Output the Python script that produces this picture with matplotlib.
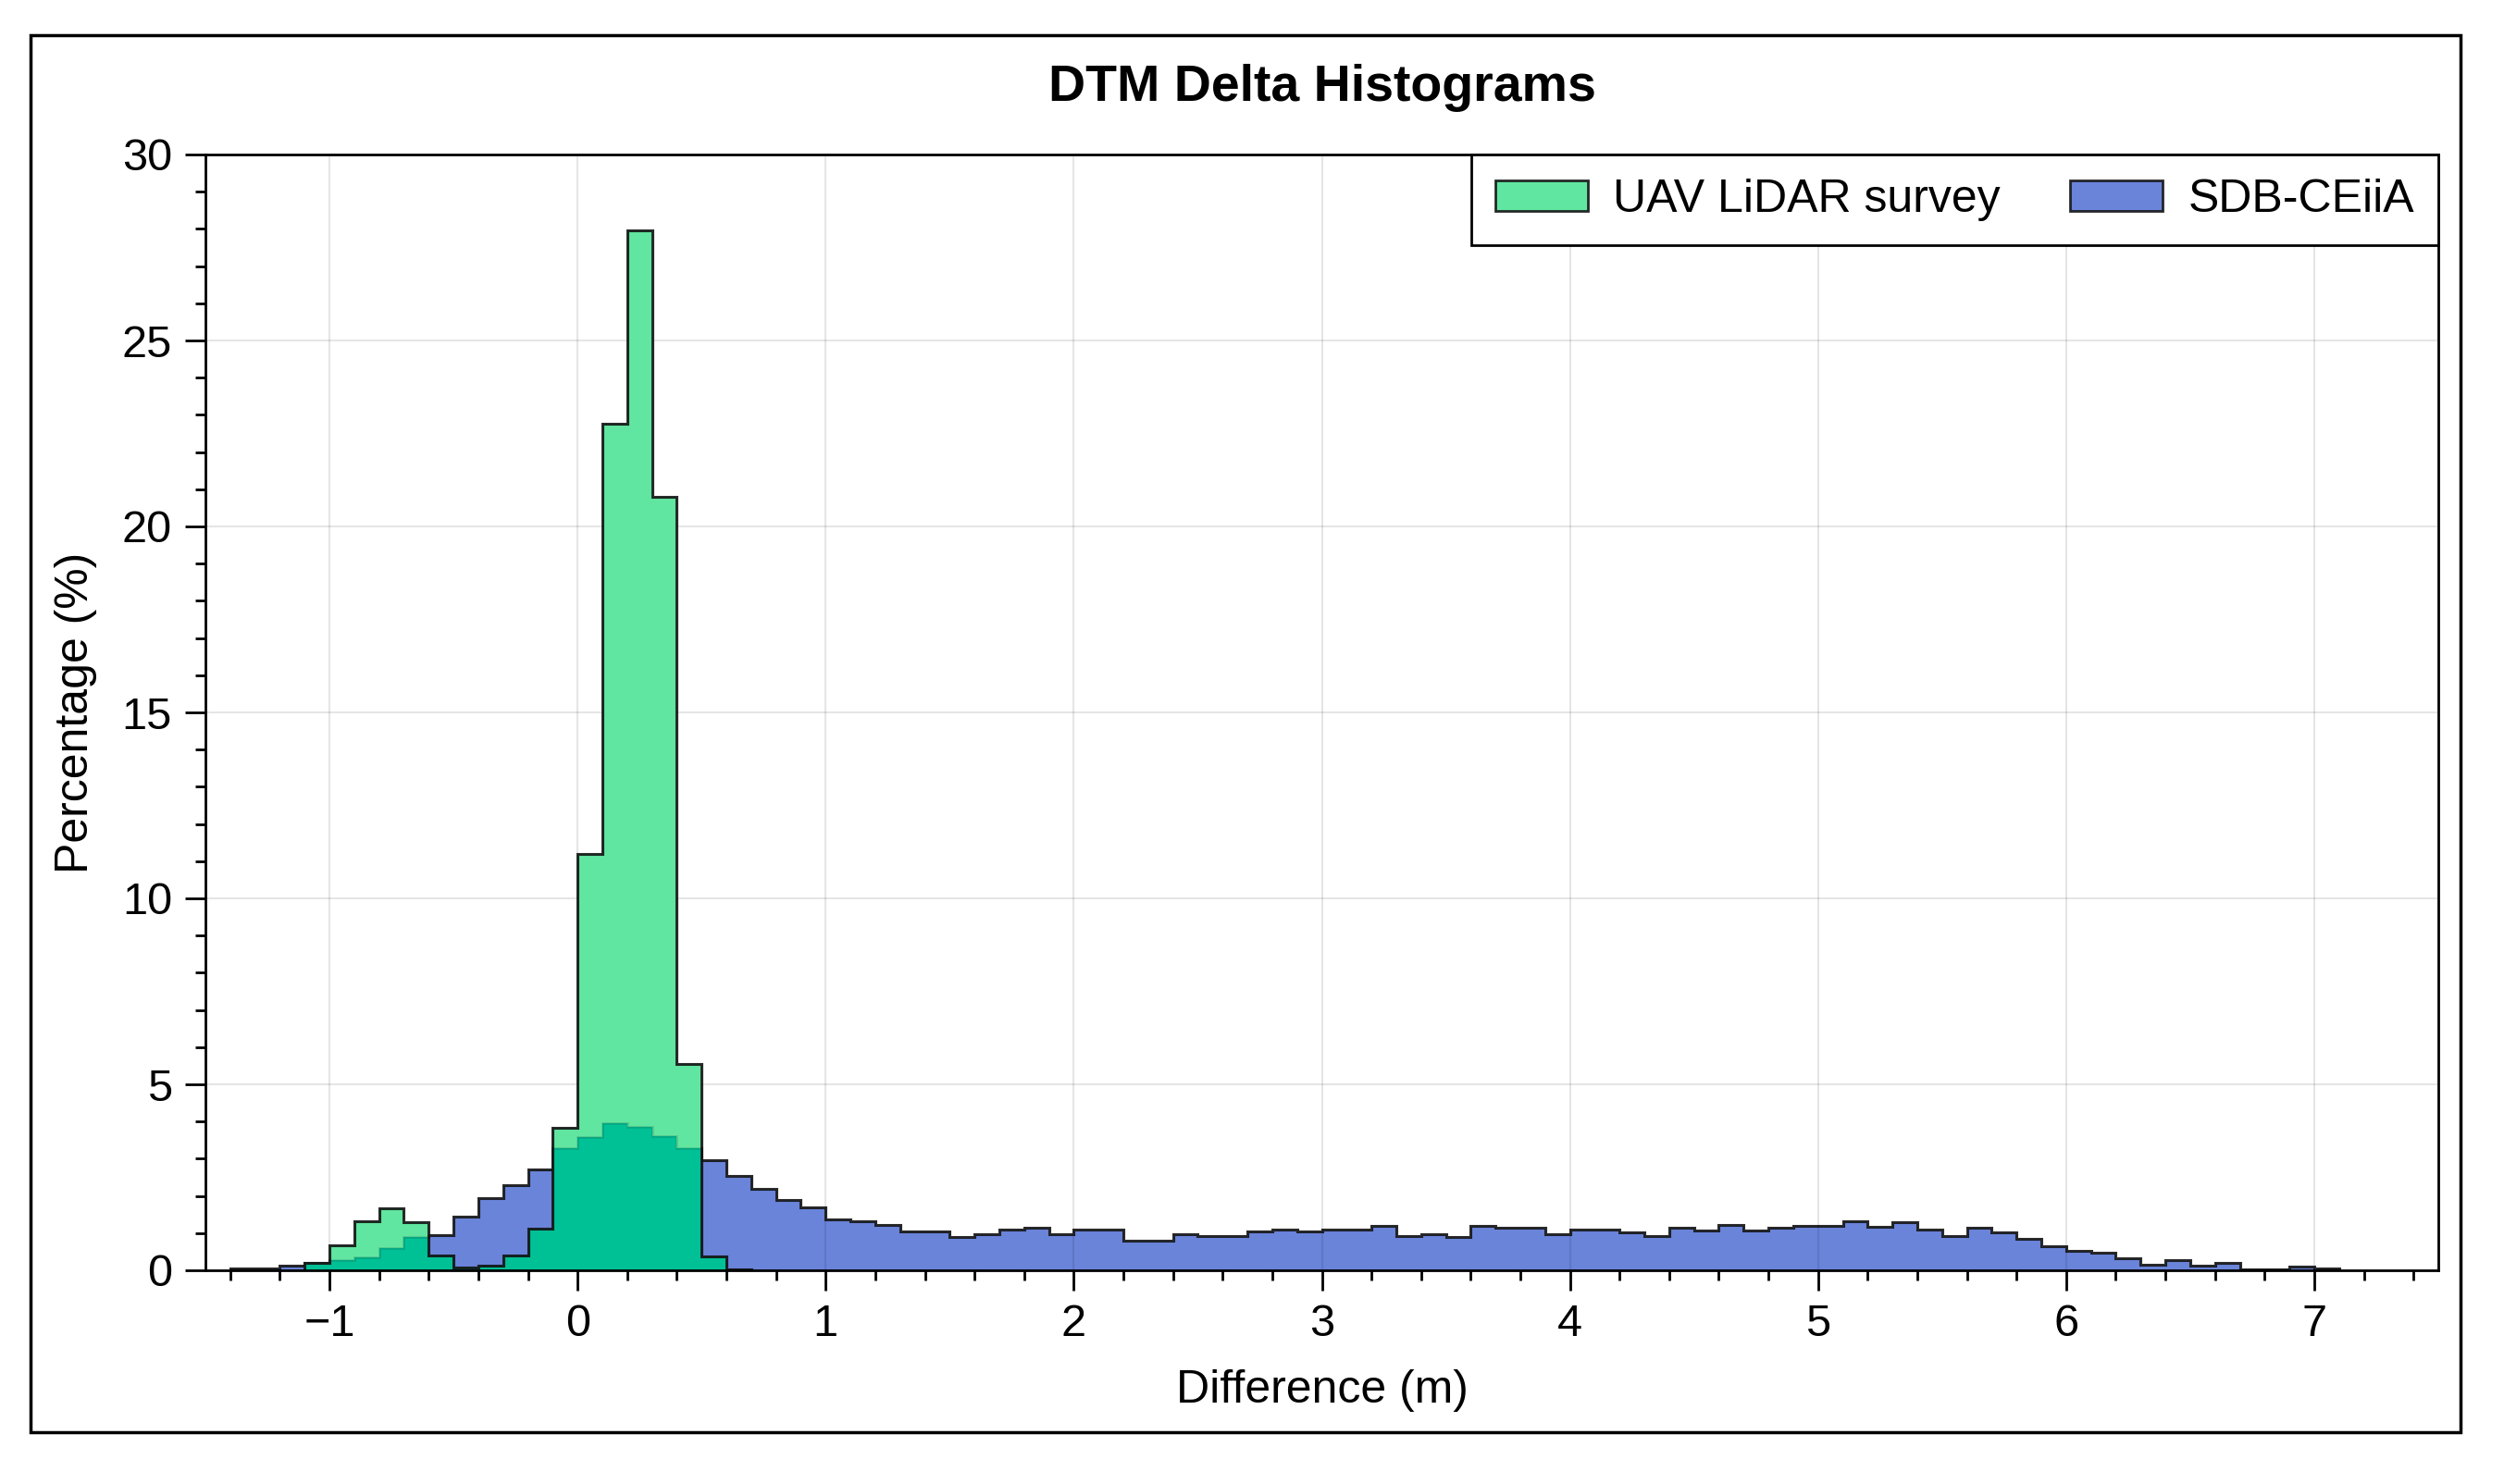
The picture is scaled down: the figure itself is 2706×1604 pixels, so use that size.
import numpy as np
import matplotlib
matplotlib.use("Agg")
import matplotlib.pyplot as plt
from matplotlib.patches import Patch, Rectangle
from matplotlib.ticker import MultipleLocator

plt.rcParams['font.family'] = ['Liberation Sans', 'DejaVu Sans']

# histogram values (% of cells per 0.1 m bin)
BIN_WIDTH = 0.1

uav_start = -1.1
uav_pct = [0.21, 0.66, 1.33, 1.66, 1.29, 0.39, 0.08, 0.12, 0.41, 1.12,
           3.84, 11.2, 22.75, 27.95, 20.8, 5.55, 0.38, 0.03]

sdb_start = -1.4
sdb_pct = [0.05, 0.05, 0.12, 0.21, 0.28, 0.34, 0.60, 0.90, 0.95, 1.45,
           1.95, 2.28, 2.72, 3.29,
           3.57, 3.95, 3.86, 3.61, 3.29, 2.95, 2.53, 2.19, 1.90, 1.70,
           1.38, 1.33, 1.23, 1.04, 1.04, 0.89, 0.97, 1.10, 1.14, 0.98,
           1.09, 1.09, 0.79, 0.79, 0.97, 0.93, 0.93, 1.04, 1.10, 1.04,
           1.10, 1.10, 1.19, 0.93, 0.98, 0.89, 1.19, 1.14, 1.14, 0.98,
           1.10, 1.10, 1.02, 0.91, 1.14, 1.06, 1.23, 1.08, 1.14, 1.19,
           1.19, 1.33, 1.16, 1.29, 1.09, 0.91, 1.14, 1.02, 0.85, 0.64,
           0.52, 0.47, 0.32, 0.16, 0.27, 0.13, 0.20, 0.03, 0.03, 0.10,
           0.04]

labels = ["UAV LiDAR survey", "SDB-CEiiA"]
title = "DTM Delta Histograms"


def edges_for(start, vals):
    return np.round(start + BIN_WIDTH * np.arange(len(vals) + 1), 2)


W, H = 2706, 1604
fig = plt.figure(figsize=(W / 100, H / 100), dpi=100)
ax = fig.add_axes([222 / W, 1 - 1373 / H, (2635 - 222) / W, (1373 - 167) / H])

green = "#60e6a0"
teal = "#00c196"
blue = "#6a84da"
edge = (0.08, 0.08, 0.08, 0.9)

uav_edges = edges_for(uav_start, uav_pct)
# where the two histograms overlap the reference shows a darker teal
off = int(round((uav_start - sdb_start) / BIN_WIDTH))
overlap = np.minimum(uav_pct, sdb_pct[off:off + len(uav_pct)])

ax.stairs(sdb_pct, edges_for(sdb_start, sdb_pct), fill=True, facecolor=blue,
          edgecolor=edge, linewidth=2.2, zorder=2)
ax.stairs(uav_pct, uav_edges, fill=True, facecolor=green, linewidth=0, zorder=3)
ax.stairs(overlap, uav_edges, fill=True, facecolor=teal, linewidth=0, zorder=3.1)
ax.stairs(overlap, uav_edges, color=(0.1, 0.1, 0.1, 0.15), linewidth=2.0, zorder=3.15)
ax.stairs(uav_pct, uav_edges, color=edge, linewidth=2.2, zorder=3.2)

ax.set_xlim(-1.5, 7.5)
ax.set_ylim(0, 30)
ax.xaxis.set_major_locator(MultipleLocator(1))
ax.xaxis.set_minor_locator(MultipleLocator(0.2))
ax.yaxis.set_major_locator(MultipleLocator(5))
ax.yaxis.set_minor_locator(MultipleLocator(1))
ax.tick_params(which="major", length=16, width=2, labelsize=35, pad=10)
ax.tick_params(which="minor", length=8, width=2)
ax.grid(True, which="major", color="black", alpha=0.1, linewidth=1.5, zorder=4)
ax.set_axisbelow(False)
for s in ax.spines.values():
    s.set_linewidth(2)
    s.set_zorder(5)

ax.set_title(title, fontsize=40, fontweight="bold", pad=42)
ax.set_xlabel("Difference (m)", fontsize=36, labelpad=19)
ax.set_ylabel("Percentage (%)", fontsize=36, labelpad=19)

handles = [Patch(facecolor=green, edgecolor=edge, linewidth=2),
           Patch(facecolor=blue, edgecolor=edge, linewidth=2)]
leg = ax.legend(handles, labels, loc="upper right", ncol=2, fontsize=36,
                borderaxespad=0, fancybox=False, framealpha=1,
                edgecolor="black", handlelength=2.0, handleheight=0.62,
                handletextpad=0.55, columnspacing=1.5, borderpad=0.52)
leg.get_frame().set_linewidth(2)
leg.set_zorder(6)

# outer border round the whole figure
fig.add_artist(Rectangle((33 / W, 1 - 1548 / H), (2659 - 33) / W, (1548 - 38) / H,
                         transform=fig.transFigure, fill=False,
                         edgecolor="black", linewidth=2.5))

fig.savefig("out.png", dpi=100, facecolor="white")
